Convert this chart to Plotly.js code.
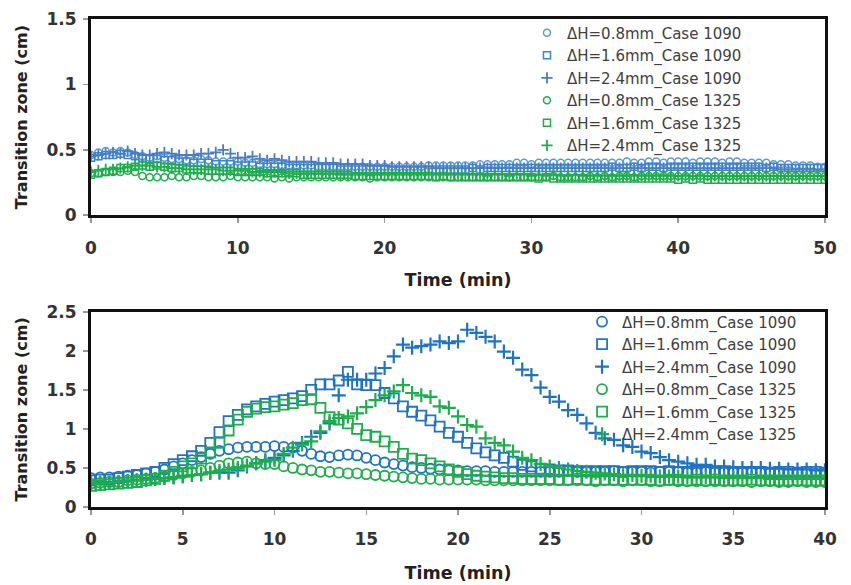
<!DOCTYPE html>
<html>
<head>
<meta charset="utf-8">
<script src="https://cdn.plot.ly/plotly-3.0.1.min.js"></script>
<style>html,body{margin:0;padding:0;background:#fff;}#chart{width:851px;height:585px;}</style>
</head>
<body>
<div id="chart"></div>
<script>
// ---------- Top panel (0-50 min) ----------
var timeTop = [0,0.5,1,1.5,2,2.5,3,3.5,4,4.5,5,5.5,6,6.5,7,7.5,8,8.5,9,9.5,
  10,10.5,11,11.5,12,12.5,13,13.5,14,14.5,15,15.5,16,16.5,17,17.5,18,18.5,19,19.5,
  20,20.5,21,21.5,22,22.5,23,23.5,24,24.5,25,25.5,26,26.5,27,27.5,28,28.5,29,29.5,
  30,30.5,31,31.5,32,32.5,33,33.5,34,34.5,35,35.5,36,36.5,37,37.5,38,38.5,39,39.5,
  40,40.5,41,41.5,42,42.5,43,43.5,44,44.5,45,45.5,46,46.5,47,47.5,48,48.5,49,49.5,50];

var top_08_1090 = [0.46,0.48,0.49,0.48,0.49,0.48,0.46,0.45,0.44,0.45,
  0.44,0.43,0.43,0.42,0.42,0.43,0.42,0.41,0.41,0.41,
  0.41,0.40,0.40,0.39,0.39,0.39,0.38,0.38,0.38,0.38,
  0.38,0.37,0.37,0.37,0.37,0.37,0.37,0.37,0.37,0.37,
  0.37,0.37,0.37,0.37,0.37,0.37,0.38,0.38,0.38,0.38,
  0.38,0.38,0.38,0.39,0.39,0.39,0.39,0.39,0.40,0.40,
  0.39,0.40,0.40,0.40,0.40,0.40,0.40,0.40,0.40,0.40,
  0.40,0.40,0.40,0.41,0.40,0.40,0.41,0.41,0.40,0.41,
  0.41,0.41,0.40,0.41,0.41,0.41,0.40,0.41,0.41,0.40,
  0.40,0.40,0.40,0.39,0.39,0.39,0.38,0.38,0.38,0.37,0.37];
var top_16_1090 = [0.44,0.45,0.46,0.46,0.47,0.46,0.45,0.44,0.43,0.43,
  0.42,0.42,0.41,0.41,0.40,0.40,0.40,0.39,0.39,0.39,
  0.38,0.38,0.38,0.37,0.37,0.37,0.37,0.36,0.36,0.36,
  0.36,0.36,0.36,0.36,0.35,0.35,0.35,0.35,0.35,0.35,
  0.35,0.35,0.35,0.35,0.35,0.35,0.35,0.35,0.35,0.35,
  0.35,0.35,0.36,0.35,0.36,0.36,0.36,0.36,0.36,0.36,
  0.36,0.36,0.36,0.36,0.36,0.36,0.36,0.36,0.36,0.36,
  0.36,0.37,0.36,0.36,0.37,0.36,0.37,0.37,0.36,0.37,
  0.37,0.37,0.37,0.37,0.37,0.37,0.37,0.37,0.37,0.37,
  0.37,0.37,0.36,0.37,0.36,0.36,0.36,0.36,0.36,0.36,0.36];
var top_24_1090 = [0.45,0.46,0.47,0.48,0.47,0.49,0.47,0.46,0.46,0.47,
  0.48,0.47,0.46,0.46,0.46,0.47,0.47,0.48,0.50,0.47,
  0.44,0.44,0.45,0.43,0.42,0.43,0.42,0.41,0.41,0.41,
  0.41,0.40,0.40,0.40,0.39,0.39,0.39,0.39,0.38,0.38,
  0.38,0.37,0.37,0.37,0.37,0.37,0.37,0.36,0.36,0.36,
  0.36,0.36,0.36,0.36,0.36,0.36,0.36,0.36,0.36,0.36,
  0.36,0.36,0.36,0.36,0.36,0.36,0.36,0.36,0.36,0.36,
  0.36,0.36,0.36,0.36,0.36,0.36,0.36,0.36,0.36,0.36,
  0.36,0.36,0.36,0.36,0.36,0.36,0.36,0.36,0.36,0.36,
  0.36,0.36,0.36,0.36,0.35,0.35,0.35,0.35,0.35,0.35,0.35];
var top_08_1325 = [0.32,0.32,0.33,0.33,0.33,0.34,0.33,0.30,0.29,0.29,
  0.29,0.30,0.29,0.29,0.30,0.30,0.29,0.29,0.29,0.30,
  0.29,0.29,0.29,0.29,0.29,0.28,0.29,0.28,0.29,0.29,
  0.29,0.29,0.29,0.29,0.29,0.29,0.29,0.29,0.28,0.29,
  0.29,0.29,0.29,0.29,0.29,0.29,0.29,0.29,0.29,0.29,
  0.29,0.29,0.29,0.29,0.29,0.29,0.29,0.29,0.29,0.29,
  0.29,0.29,0.29,0.30,0.29,0.29,0.29,0.29,0.30,0.29,
  0.30,0.29,0.30,0.30,0.29,0.30,0.30,0.30,0.30,0.30,
  0.30,0.30,0.30,0.30,0.30,0.30,0.30,0.30,0.30,0.30,
  0.30,0.30,0.30,0.30,0.30,0.30,0.30,0.30,0.30,0.30,0.30];
var top_16_1325 = [0.31,0.32,0.33,0.34,0.36,0.36,0.37,0.38,0.37,0.38,
  0.37,0.36,0.36,0.35,0.35,0.35,0.34,0.34,0.34,0.34,
  0.33,0.33,0.33,0.33,0.32,0.32,0.32,0.32,0.32,0.31,
  0.31,0.31,0.31,0.31,0.31,0.31,0.30,0.30,0.30,0.30,
  0.30,0.30,0.30,0.30,0.30,0.30,0.30,0.29,0.30,0.29,
  0.29,0.29,0.29,0.29,0.29,0.29,0.29,0.29,0.29,0.29,
  0.29,0.28,0.29,0.28,0.28,0.28,0.28,0.28,0.28,0.28,
  0.28,0.28,0.28,0.28,0.28,0.28,0.28,0.28,0.28,0.28,
  0.27,0.28,0.27,0.28,0.27,0.27,0.27,0.27,0.27,0.27,
  0.27,0.27,0.27,0.27,0.27,0.27,0.27,0.27,0.27,0.27,0.27];
var top_24_1325 = [0.33,0.34,0.35,0.35,0.36,0.37,0.38,0.38,0.38,0.37,
  0.37,0.36,0.36,0.35,0.35,0.35,0.35,0.35,0.34,0.34,
  0.34,0.34,0.33,0.33,0.33,0.33,0.33,0.32,0.32,0.32,
  0.32,0.32,0.32,0.32,0.31,0.31,0.31,0.31,0.31,0.31,
  0.31,0.31,0.31,0.31,0.31,0.31,0.31,0.31,0.31,0.31,
  0.31,0.31,0.31,0.31,0.30,0.31,0.31,0.30,0.31,0.31,
  0.30,0.31,0.30,0.31,0.30,0.30,0.31,0.30,0.30,0.30,
  0.30,0.30,0.30,0.30,0.30,0.30,0.30,0.30,0.30,0.30,
  0.30,0.30,0.30,0.30,0.30,0.30,0.30,0.30,0.30,0.30,
  0.30,0.30,0.30,0.30,0.30,0.30,0.30,0.30,0.30,0.30,0.30];

// ---------- Bottom panel (0-40 min) ----------
var timeBot = [0,0.5,1,1.5,2,2.5,3,3.5,4,4.5,5,5.5,6,6.5,7,7.5,8,8.5,9,9.5,
  10,10.5,11,11.5,12,12.5,13,13.5,14,14.5,15,15.5,16,16.5,17,17.5,18,18.5,19,19.5,
  20,20.5,21,21.5,22,22.5,23,23.5,24,24.5,25,25.5,26,26.5,27,27.5,28,28.5,29,29.5,
  30,30.5,31,31.5,32,32.5,33,33.5,34,34.5,35,35.5,36,36.5,37,37.5,38,38.5,39,39.5,40];

var bot_08_1090 = [0.37,0.38,0.38,0.39,0.40,0.41,0.43,0.45,0.48,0.52,
  0.56,0.60,0.64,0.68,0.72,0.74,0.76,0.77,0.77,0.77,
  0.78,0.77,0.76,0.72,0.68,0.65,0.64,0.66,0.67,0.66,
  0.63,0.60,0.57,0.55,0.53,0.51,0.50,0.49,0.48,0.47,
  0.47,0.46,0.46,0.46,0.45,0.45,0.45,0.45,0.45,0.45,
  0.45,0.45,0.46,0.45,0.45,0.45,0.45,0.46,0.45,0.45,
  0.45,0.44,0.45,0.45,0.45,0.44,0.44,0.45,0.44,0.44,
  0.44,0.44,0.44,0.44,0.44,0.44,0.43,0.44,0.44,0.43,0.43];
var bot_16_1090 = [0.34,0.35,0.35,0.37,0.39,0.41,0.43,0.45,0.50,0.55,
  0.60,0.65,0.72,0.82,0.96,1.10,1.18,1.25,1.29,1.32,
  1.35,1.37,1.39,1.42,1.50,1.57,1.57,1.62,1.73,1.57,
  1.56,1.56,1.46,1.39,1.29,1.22,1.17,1.11,1.03,0.95,
  0.90,0.82,0.75,0.70,0.66,0.63,0.58,0.54,0.52,0.49,
  0.48,0.47,0.47,0.46,0.46,0.46,0.46,0.46,0.45,0.46,
  0.46,0.46,0.45,0.46,0.45,0.45,0.45,0.45,0.45,0.45,
  0.45,0.45,0.45,0.45,0.44,0.45,0.45,0.44,0.45,0.45,0.44];
var bot_24_1090 = [0.30,0.31,0.31,0.32,0.33,0.34,0.35,0.36,0.37,0.38,
  0.40,0.41,0.42,0.44,0.44,0.44,0.47,0.52,0.56,0.60,
  0.63,0.66,0.72,0.82,0.90,0.95,1.07,1.43,1.63,1.63,
  1.63,1.71,1.78,1.93,2.08,2.04,2.06,2.08,2.12,2.10,
  2.12,2.27,2.23,2.18,2.12,1.99,1.91,1.76,1.69,1.53,
  1.41,1.35,1.24,1.18,1.07,0.95,0.88,0.86,0.79,0.77,
  0.71,0.69,0.64,0.60,0.58,0.56,0.54,0.54,0.52,0.52,
  0.51,0.50,0.50,0.50,0.49,0.49,0.48,0.48,0.48,0.47,0.47];
var bot_08_1325 = [0.30,0.31,0.32,0.32,0.34,0.35,0.36,0.37,0.39,0.41,
  0.43,0.45,0.47,0.50,0.53,0.56,0.57,0.58,0.56,0.55,
  0.55,0.52,0.50,0.48,0.47,0.45,0.45,0.44,0.43,0.43,
  0.42,0.41,0.40,0.39,0.38,0.37,0.36,0.36,0.35,0.35,
  0.35,0.35,0.35,0.34,0.34,0.34,0.34,0.34,0.34,0.34,
  0.34,0.34,0.34,0.34,0.34,0.33,0.34,0.34,0.33,0.34,
  0.34,0.33,0.33,0.34,0.33,0.33,0.33,0.33,0.33,0.33,
  0.33,0.33,0.32,0.33,0.33,0.32,0.32,0.33,0.32,0.32,0.32];
var bot_16_1325 = [0.27,0.28,0.29,0.30,0.31,0.32,0.34,0.36,0.40,0.45,
  0.52,0.56,0.62,0.70,0.82,0.98,1.12,1.22,1.26,1.28,
  1.29,1.31,1.33,1.37,1.38,1.27,1.15,1.12,1.07,1.00,
  0.92,0.90,0.84,0.77,0.68,0.62,0.60,0.56,0.52,0.48,
  0.45,0.42,0.40,0.39,0.38,0.37,0.37,0.36,0.36,0.36,
  0.36,0.35,0.35,0.36,0.35,0.35,0.35,0.35,0.35,0.35,
  0.35,0.35,0.34,0.35,0.35,0.34,0.35,0.34,0.35,0.34,
  0.34,0.34,0.35,0.34,0.34,0.34,0.34,0.34,0.34,0.34,0.34];
var bot_24_1325 = [0.30,0.30,0.31,0.32,0.33,0.34,0.35,0.36,0.37,0.38,
  0.39,0.41,0.42,0.44,0.46,0.48,0.50,0.53,0.56,0.58,
  0.60,0.68,0.76,0.80,0.84,0.97,1.10,1.14,1.16,1.20,
  1.28,1.37,1.43,1.48,1.56,1.46,1.43,1.41,1.29,1.27,
  1.16,1.05,1.03,0.88,0.82,0.79,0.71,0.63,0.60,0.55,
  0.52,0.50,0.48,0.46,0.45,0.44,0.43,0.42,0.41,0.41,
  0.40,0.40,0.39,0.39,0.39,0.38,0.38,0.38,0.38,0.37,
  0.37,0.37,0.37,0.37,0.36,0.36,0.36,0.36,0.36,0.36,0.36];

var seriesNames = ['ΔH=0.8mm_Case 1090','ΔH=1.6mm_Case 1090','ΔH=2.4mm_Case 1090',
                   'ΔH=0.8mm_Case 1325','ΔH=1.6mm_Case 1325','ΔH=2.4mm_Case 1325'];

var topY = [top_08_1090, top_16_1090, top_24_1090, top_08_1325, top_16_1325, top_24_1325];
var botY = [bot_08_1090, bot_16_1090, bot_24_1090, bot_08_1325, bot_16_1325, bot_24_1325];
var symbols = ['circle-open','square-open','cross-thin-open','circle-open','square-open','cross-thin-open'];
var topColors = ['#5B9BD5','#3D84D0','#4A7CC6','#1DAE4B','#1DAE4B','#1DAE4B'];
var botColors = ['#1F72C6','#1F72C6','#1F72C6','#1DAE4B','#1DAE4B','#1DAE4B'];

var traces = [];
for (var i = 0; i < 6; i++) {
  var isPlus = symbols[i] === 'cross-thin-open';
  traces.push({
    x: timeTop, y: topY[i], xaxis: 'x', yaxis: 'y', legend: 'legend',
    type: 'scatter', mode: 'markers', name: seriesNames[i],
    marker: {symbol: symbols[i], size: isPlus ? 8 : 7, color: topColors[i],
             line: {color: topColors[i], width: isPlus ? 1.8 : 1.5}}
  });
}
for (var j = 0; j < 6; j++) {
  var isPlus2 = symbols[j] === 'cross-thin-open';
  traces.push({
    x: timeBot, y: botY[j], xaxis: 'x2', yaxis: 'y2', legend: 'legend2',
    type: 'scatter', mode: 'markers', name: seriesNames[j],
    marker: {symbol: symbols[j], size: 10, color: botColors[j],
             line: {color: botColors[j], width: isPlus2 ? 2.2 : 1.8}}
  });
}

var tickFont = {family: 'DejaVu Sans, sans-serif', size: 17, color: '#333333', weight: 'bold'};
var xTitleFont = {family: 'DejaVu Sans, sans-serif', size: 17.5, color: '#222222', weight: 'bold'};
var yTitleFont = {family: 'DejaVu Sans, sans-serif', size: 16, color: '#222222', weight: 'bold'};
function axisBase() {
  return {
    showline: true, linecolor: '#111111', linewidth: 3, mirror: true,
    showgrid: false, zeroline: false,
    ticks: 'outside', ticklen: 5, tickwidth: 1.5, tickcolor: '#999999',
    tickfont: tickFont, automargin: false
  };
}
var xa = axisBase(); xa.domain = [0,1]; xa.anchor = 'y'; xa.range = [0,50]; xa.dtick = 10; xa.tick0 = 0;
xa.ticklabelstandoff = 10;
xa.title = {text: 'Time (min)', font: xTitleFont, standoff: 18};
var ya = axisBase(); ya.domain = [0.598,1]; ya.anchor = 'x'; ya.range = [0,1.5]; ya.dtick = 0.5; ya.tick0 = 0;
ya.ticklabelstandoff = 3;
ya.title = {text: 'Transition zone (cm)', font: yTitleFont, standoff: 15};
var xa2 = axisBase(); xa2.domain = [0,1]; xa2.anchor = 'y2'; xa2.range = [0,40]; xa2.dtick = 5; xa2.tick0 = 0;
xa2.ticklabelstandoff = 10;
xa2.title = {text: 'Time (min)', font: xTitleFont, standoff: 19};
var ya2 = axisBase(); ya2.domain = [0,0.4]; ya2.anchor = 'x2'; ya2.range = [0,2.5]; ya2.dtick = 0.5; ya2.tick0 = 0;
ya2.ticklabelstandoff = 3;
ya2.title = {text: 'Transition zone (cm)', font: yTitleFont, standoff: 15};

var legendFont = {family: 'DejaVu Sans, sans-serif', size: 15, color: '#404040'};
var layout = {
  width: 851, height: 585,
  margin: {l: 91, r: 26, t: 19, b: 78},
  paper_bgcolor: '#ffffff', plot_bgcolor: '#ffffff',
  showlegend: true,
  xaxis: xa, yaxis: ya, xaxis2: xa2, yaxis2: ya2,
  legend: {x: 0.594, y: 1.005, xanchor: 'left', yanchor: 'top', bgcolor: 'rgba(0,0,0,0)',
           font: legendFont, tracegroupgap: 0},
  legend2: {x: 0.669, y: 0.413, xanchor: 'left', yanchor: 'top', bgcolor: 'rgba(0,0,0,0)',
           font: legendFont, tracegroupgap: 0}
};

Plotly.newPlot('chart', traces, layout, {displayModeBar: false, staticPlot: true});
</script>
</body>
</html>
